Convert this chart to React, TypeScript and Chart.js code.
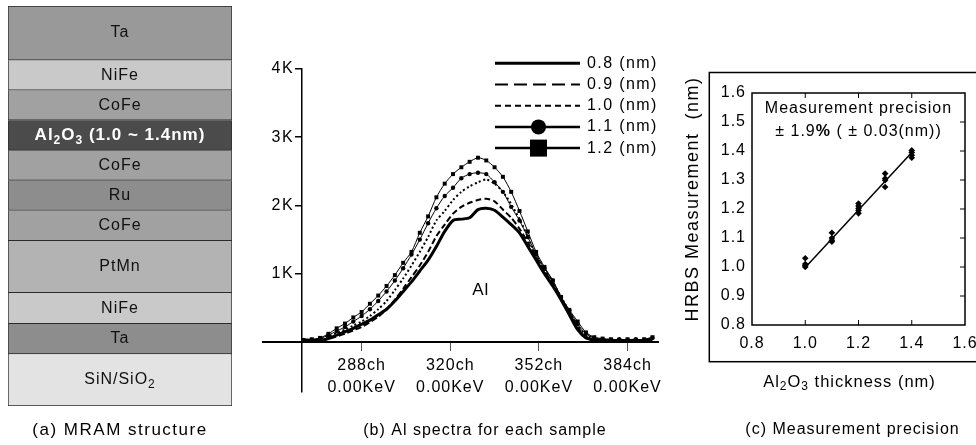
import React, { useEffect, useRef } from 'react';
import { Chart, registerables } from 'chart.js';

Chart.register(...registerables);

const FONT = '"Liberation Sans", Arial, Helvetica, sans-serif';
const SPACING = '1px';

// ---------- (a) MRAM layer stack ----------
const layerNames = ['Ta', 'NiFe', 'CoFe', 'Al_2O_3 (1.0 ~ 1.4nm)', 'CoFe', 'Ru', 'CoFe', 'PtMn', 'NiFe', 'Ta', 'SiN/SiO_2'];
const layerThickness = [54, 30, 30, 30, 30, 30, 30, 52, 31, 30, 52];
const layerColors = ['#999999', '#c9c9c9', '#a1a1a1', '#4b4b4b', '#a1a1a1', '#8d8d8d', '#a1a1a1', '#b3b3b3', '#c9c9c9', '#8d8d8d', '#e3e3e3'];
const layerTextColors = ['#111', '#111', '#111', '#fff', '#111', '#111', '#111', '#111', '#111', '#111', '#111'];
const layerBold = [false, false, false, true, false, false, false, false, false, false, false];
const captionA = '(a) MRAM structure';

// ---------- (b) Al spectra ----------
const channels = [267, 270, 273, 276, 279, 282, 285, 288, 291, 294, 297, 300, 303, 306, 309, 312, 315, 318, 321, 324, 327, 330, 333, 336, 339, 342, 345, 348, 351, 354, 357, 360, 363, 366, 369, 372, 375, 378, 381, 384, 387, 390, 393];
const s08 = [30, 25, 20, 50, 100, 150, 200, 260, 320, 400, 480, 600, 740, 880, 1040, 1200, 1400, 1620, 1780, 1800, 1820, 1940, 1960, 1930, 1830, 1720, 1600, 1400, 1200, 1000, 820, 620, 400, 180, 60, 30, 20, 25, 15, 20, 25, 20, 40];
const s09 = [20, 20, 30, 45, 80, 120, 170, 220, 290, 370, 480, 620, 780, 950, 1120, 1320, 1550, 1720, 1880, 1980, 2040, 2080, 2100, 2060, 1940, 1820, 1660, 1460, 1240, 1040, 860, 640, 430, 220, 80, 40, 30, 20, 30, 20, 30, 25, 50];
const s10 = [30, 30, 40, 80, 130, 180, 240, 300, 380, 480, 600, 760, 930, 1120, 1320, 1540, 1780, 1920, 2080, 2200, 2280, 2340, 2380, 2320, 2200, 2020, 1800, 1540, 1270, 1060, 880, 660, 450, 240, 100, 50, 30, 30, 20, 30, 25, 30, 50];
const s11 = [20, 30, 50, 100, 160, 220, 300, 380, 480, 600, 740, 900, 1080, 1280, 1500, 1740, 1960, 2140, 2260, 2400, 2460, 2480, 2460, 2340, 2200, 1980, 1780, 1540, 1280, 1080, 900, 660, 460, 260, 120, 60, 40, 30, 40, 30, 40, 30, 60];
const s12 = [30, 40, 60, 120, 200, 270, 360, 440, 560, 680, 820, 980, 1160, 1320, 1600, 1840, 2120, 2320, 2460, 2560, 2640, 2700, 2660, 2560, 2420, 2200, 1920, 1620, 1320, 1100, 900, 660, 470, 300, 140, 70, 50, 40, 30, 40, 30, 40, 70];
const seriesValues = [s08, s09, s10, s11, s12];
const seriesLabels = ['0.8 (nm)', '0.9 (nm)', '1.0 (nm)', '1.1 (nm)', '1.2 (nm)'];
const xTickValuesB = [288, 320, 352, 384];
const xTickLinesB = [['288ch', '0.00KeV'], ['320ch', '0.00KeV'], ['352ch', '0.00KeV'], ['384ch', '0.00KeV']];
const yTickValuesB = [1000, 2000, 3000, 4000];
const yTickLabelsB = ['1K', '2K', '3K', '4K'];
const peakLabel = 'Al';
const peakLabelAt = [331, 760];
const captionB = '(b) Al spectra for each sample';

// ---------- (c) measurement precision ----------
const thicknessX = [1.0, 1.0, 1.0, 1.0, 1.1, 1.1, 1.1, 1.1, 1.2, 1.2, 1.2, 1.2, 1.2, 1.3, 1.3, 1.3, 1.3, 1.4, 1.4, 1.4, 1.4];
const hrbsY = [1.03, 1.01, 1.005, 1.0, 1.118, 1.1, 1.092, 1.087, 1.219, 1.21, 1.202, 1.195, 1.185, 1.322, 1.305, 1.299, 1.276, 1.402, 1.395, 1.385, 1.377];
const fitX = [1.0, 1.4];
const fitY = [0.998, 1.395];
const xTicksC = [0.8, 1.0, 1.2, 1.4, 1.6];
const yTicksC = [0.8, 0.9, 1.0, 1.1, 1.2, 1.3, 1.4, 1.5, 1.6];
const xTitleC = 'Al_2O_3 thickness (nm)';
const yTitleC = 'HRBS Measurement  (nm)';
const noteLine1 = 'Measurement precision';
const noteLine2 = '± 1.9*%* ( ± 0.03(nm))';
const captionC = '(c) Measurement precision';

// ---------- styles ----------
const lineWidthsB = [3, 2, 2, 1, 1];
const dashesB = [[], [6, 3], [2, 2.5], [], []];
const pointStylesB = [false, false, false, 'circle', 'rect'];
const pointRadiiB = [0, 0, 0, 2.2, 2.8];
const legendWidths = [3, 2, 2, 2.5, 2.5];
const legendDashes = [[], [13, 6], [6, 4], [], []];

type Seg = { t: string; sub?: boolean; bold?: boolean };
function parseRich(s: string): Seg[] {
  const segs: Seg[] = [];
  let buf = '';
  let bold = false;
  const flush = () => { if (buf) segs.push({ t: buf, bold }); buf = ''; };
  for (let i = 0; i < s.length; i++) {
    const c = s[i];
    if (c === '_' && i + 1 < s.length) { flush(); segs.push({ t: s[i + 1], sub: true, bold }); i++; }
    else if (c === '*') { flush(); bold = !bold; }
    else buf += c;
  }
  flush();
  return segs;
}

function drawRich(ctx: any, text: string, x: number, y: number, o: { size: number; bold?: boolean; color?: string; align?: string; spacing?: number }) {
  const segs = parseRich(text);
  const fontOf = (s: Seg) => `${o.bold || s.bold ? 'bold ' : ''}${s.sub ? Math.round(o.size * 0.72) : o.size}px ${FONT}`;
  ctx.save();
  if (o.spacing != null) ctx.letterSpacing = o.spacing + 'px';
  let total = 0;
  const ws = segs.map((s) => { ctx.font = fontOf(s); const w = ctx.measureText(s.t).width; total += w; return w; });
  let cx = o.align === 'left' ? x : o.align === 'right' ? x - total : x - total / 2;
  ctx.fillStyle = o.color || '#000';
  ctx.textBaseline = 'middle';
  ctx.textAlign = 'left';
  segs.forEach((s, i) => {
    ctx.font = fontOf(s);
    ctx.fillText(s.t, cx, y + (s.sub ? o.size * 0.3 : 0));
    cx += ws[i];
  });
  ctx.restore();
}

const spacingPlugin = {
  id: 'spacing',
  beforeUpdate(chart: any) { chart.ctx.letterSpacing = SPACING; },
  beforeRender(chart: any) { chart.ctx.letterSpacing = SPACING; },
};

function tickFont(size: number, lineHeight = 1.2) {
  return { family: FONT, size, lineHeight };
}

function configA(): any {
  const total = layerThickness.reduce((a, b) => a + b, 0);
  return {
    type: 'bar',
    data: {
      labels: ['stack'],
      datasets: layerNames.map((name, i) => ({
        label: name,
        data: [layerThickness[i]],
        backgroundColor: layerColors[i],
        borderColor: '#2b2b2b',
        borderWidth: i === 0 ? 1 : { top: 0, left: 1, right: 1, bottom: 1 },
        borderSkipped: false,
        barPercentage: 1,
        categoryPercentage: 1,
        stack: 's',
      })),
    },
    options: {
      responsive: false,
      animation: false,
      devicePixelRatio: 1,
      events: [],
      layout: { padding: { left: 8, right: 8, top: 6, bottom: 39 } },
      plugins: { legend: { display: false }, tooltip: { enabled: false } },
      scales: {
        x: { display: false, stacked: true },
        y: { display: false, stacked: true, reverse: true, min: 0, max: total },
      },
    },
    plugins: [
      spacingPlugin,
      {
        id: 'layerLabels',
        afterDatasetsDraw(chart: any) {
          const ctx = chart.ctx;
          chart.data.datasets.forEach((_: any, i: number) => {
            const el = chart.getDatasetMeta(i).data[0];
            const cy = (el.y + el.base) / 2;
            drawRich(ctx, layerNames[i], el.x, cy, { size: layerBold[i] ? 17 : 16, bold: layerBold[i], color: layerTextColors[i] });
          });
          const ca = chart.chartArea;
          drawRich(ctx, captionA, (ca.left + ca.right) / 2, ca.bottom + 24, { size: 17, spacing: 1.5 });
        },
      },
    ],
  };
}

function configB(): any {
  return {
    type: 'line',
    data: {
      datasets: seriesValues.map((vals, i) => ({
        label: seriesLabels[i],
        data: vals.map((v, j) => ({ x: channels[j], y: v })),
        borderColor: '#000',
        backgroundColor: '#000',
        borderWidth: lineWidthsB[i],
        borderDash: dashesB[i],
        pointStyle: pointStylesB[i],
        pointRadius: pointRadiiB[i],
        pointBorderWidth: 0,
        fill: false,
        tension: 0.25,
      })),
    },
    options: {
      responsive: false,
      animation: false,
      devicePixelRatio: 1,
      events: [],
      layout: { padding: { left: 23, right: 12, top: 69, bottom: 53 } },
      plugins: { legend: { display: false }, tooltip: { enabled: false } },
      scales: {
        x: {
          type: 'linear',
          min: 252.4,
          max: 395,
          position: { y: 0 },
          afterBuildTicks: (s: any) => { s.ticks = xTickValuesB.map((v) => ({ value: v })); },
          ticks: {
            autoSkip: false,
            maxRotation: 0,
            padding: 4,
            color: '#000',
            font: tickFont(16, 1.4),
            callback: (_v: any, i: number) => xTickLinesB[i],
          },
          grid: { drawOnChartArea: false, drawTicks: true, tickLength: 8, color: '#555', tickColor: '#555', lineWidth: 1 },
          border: { display: true, color: '#000', width: 2 },
        },
        y: {
          type: 'linear',
          min: -733,
          max: 4000,
          position: { x: 266.5 },
          afterBuildTicks: (s: any) => { s.ticks = yTickValuesB.map((v) => ({ value: v })); },
          ticks: { display: false },
          grid: { drawOnChartArea: false, drawTicks: true, tickLength: 6, color: '#000', tickColor: '#000', lineWidth: 1.5 },
          border: { display: true, color: '#000', width: 1.5 },
        },
      },
    },
    plugins: [
      spacingPlugin,
      {
        id: 'legendB',
        afterDraw(chart: any) {
          const { ctx, chartArea: ca, scales } = chart;
          const axisX = scales.x.getPixelForValue(266.5);
          yTickValuesB.forEach((v, i) => {
            drawRich(ctx, yTickLabelsB[i], axisX - 8, scales.y.getPixelForValue(v), { size: 16, align: 'right', spacing: 1.5 });
          });
          const x0 = ca.right - 163;
          const x1 = ca.right - 78;
          const tx = ca.right - 71;
          seriesLabels.forEach((lab, i) => {
            const y = ca.top - 5.7 + i * 21.2;
            ctx.save();
            ctx.strokeStyle = '#000';
            ctx.fillStyle = '#000';
            ctx.lineWidth = legendWidths[i];
            ctx.setLineDash(legendDashes[i]);
            ctx.beginPath();
            ctx.moveTo(x0, y);
            ctx.lineTo(x1, y);
            ctx.stroke();
            ctx.setLineDash([]);
            const mx = (x0 + x1) / 2 + 1;
            if (pointStylesB[i] === 'circle') { ctx.beginPath(); ctx.arc(mx, y, 7.5, 0, Math.PI * 2); ctx.fill(); }
            if (pointStylesB[i] === 'rect') { ctx.fillRect(mx - 8.5, y - 8.5, 17, 17); }
            ctx.restore();
            drawRich(ctx, lab, tx, y, { size: 16, align: 'left', spacing: 1.4 });
          });
          drawRich(ctx, peakLabel, scales.x.getPixelForValue(peakLabelAt[0]), scales.y.getPixelForValue(peakLabelAt[1]), { size: 17 });
          drawRich(ctx, captionB, ca.left + 222, ca.bottom + 39, { size: 16 });
        },
      },
    ],
  };
}

function configC(): any {
  return {
    type: 'scatter',
    data: {
      datasets: [
        {
          type: 'line',
          label: 'fit',
          data: fitX.map((v, i) => ({ x: v, y: fitY[i] })),
          borderColor: '#000',
          borderWidth: 1.5,
          pointRadius: 0,
          showLine: true,
          fill: false,
        },
        {
          label: 'HRBS',
          data: thicknessX.map((v, i) => ({ x: v, y: hrbsY[i] })),
          pointStyle: 'rectRot',
          pointRadius: 3.3,
          backgroundColor: '#000',
          borderColor: '#000',
          borderWidth: 0,
        },
      ],
    },
    options: {
      responsive: false,
      animation: false,
      devicePixelRatio: 1,
      events: [],
      layout: { padding: { left: 0, right: 11, top: 93, bottom: 0 } },
      plugins: { legend: { display: false }, tooltip: { enabled: false } },
      scales: {
        x: {
          type: 'linear',
          min: 0.8,
          max: 1.6,
          afterBuildTicks: (s: any) => { s.ticks = xTicksC.map((v) => ({ value: v })); },
          afterFit: (s: any) => { s.height = 120; s.paddingLeft = 0; s.paddingRight = 0; },
          ticks: { autoSkip: false, maxRotation: 0, padding: 9, color: '#000', font: tickFont(16), callback: (v: any) => Number(v).toFixed(1) },
          grid: { display: false, drawTicks: false },
          border: { display: false },
        },
        y: {
          type: 'linear',
          min: 0.8,
          max: 1.6,
          afterBuildTicks: (s: any) => { s.ticks = yTicksC.map((v) => ({ value: v })); },
          afterFit: (s: any) => { s.width = 82; },
          ticks: { padding: 6, color: '#000', font: tickFont(16), callback: (v: any) => Number(v).toFixed(1) },
          grid: { display: false, drawTicks: false },
          border: { display: false },
        },
      },
    },
    plugins: [
      spacingPlugin,
      {
        id: 'frameC',
        afterDraw(chart: any) {
          const { ctx, chartArea: ca, scales } = chart;
          const line = (a: number, b: number, c: number, d: number) => { ctx.beginPath(); ctx.moveTo(a, b); ctx.lineTo(c, d); ctx.stroke(); };
          ctx.save();
          ctx.strokeStyle = '#000';
          ctx.lineWidth = 1.5;
          ctx.strokeRect(ca.left, ca.top, ca.right - ca.left, ca.bottom - ca.top);
          ctx.strokeRect(ca.left - 42.7, ca.top - 20.5, 400, ca.bottom - ca.top + 20.5 + 36.7);
          ctx.lineWidth = 1;
          xTicksC.slice(1, -1).forEach((v) => {
            const px = scales.x.getPixelForValue(v);
            line(px, ca.bottom, px, ca.bottom - 5);
            line(px, ca.top, px, ca.top + 5);
          });
          yTicksC.slice(1, -1).forEach((v) => {
            const py = scales.y.getPixelForValue(v);
            line(ca.right, py, ca.right - 5, py);
          });
          ctx.restore();
          const cx = (ca.left + ca.right) / 2;
          drawRich(ctx, noteLine1, cx, ca.top + 15.5, { size: 16 });
          drawRich(ctx, noteLine2, cx, ca.top + 38.5, { size: 16 });
          const tcx = cx - 9;
          drawRich(ctx, xTitleC, tcx, ca.bottom + 57, { size: 16.5 });
          ctx.save();
          ctx.translate(ca.left - 59.3, ca.top + 106);
          ctx.rotate(-Math.PI / 2);
          drawRich(ctx, yTitleC, 0, 0, { size: 18, spacing: 1.5 });
          ctx.restore();
          drawRich(ctx, captionC, tcx + 3, ca.bottom + 105, { size: 16 });
        },
      },
    ],
  };
}

export default function App() {
  const aRef = useRef<HTMLCanvasElement>(null);
  const bRef = useRef<HTMLCanvasElement>(null);
  const cRef = useRef<HTMLCanvasElement>(null);

  useEffect(() => {
    const charts = [
      new Chart(aRef.current as HTMLCanvasElement, configA()),
      new Chart(bRef.current as HTMLCanvasElement, configB()),
      new Chart(cRef.current as HTMLCanvasElement, configC()),
    ];
    return () => charts.forEach((c) => c.destroy());
  }, []);

  const cs = (left: number, width: number): React.CSSProperties => ({ position: 'absolute', left, top: 0, width, height: 445 });

  return (
    <div style={{ position: 'fixed', left: 0, top: 0, width: 976, height: 445, background: '#fff', overflow: 'hidden' }}>
      <canvas ref={aRef} width={240} height={445} style={cs(0, 240)} />
      <canvas ref={bRef} width={430} height={445} style={cs(240, 430)} />
      <canvas ref={cRef} width={306} height={445} style={cs(670, 306)} />
    </div>
  );
}
